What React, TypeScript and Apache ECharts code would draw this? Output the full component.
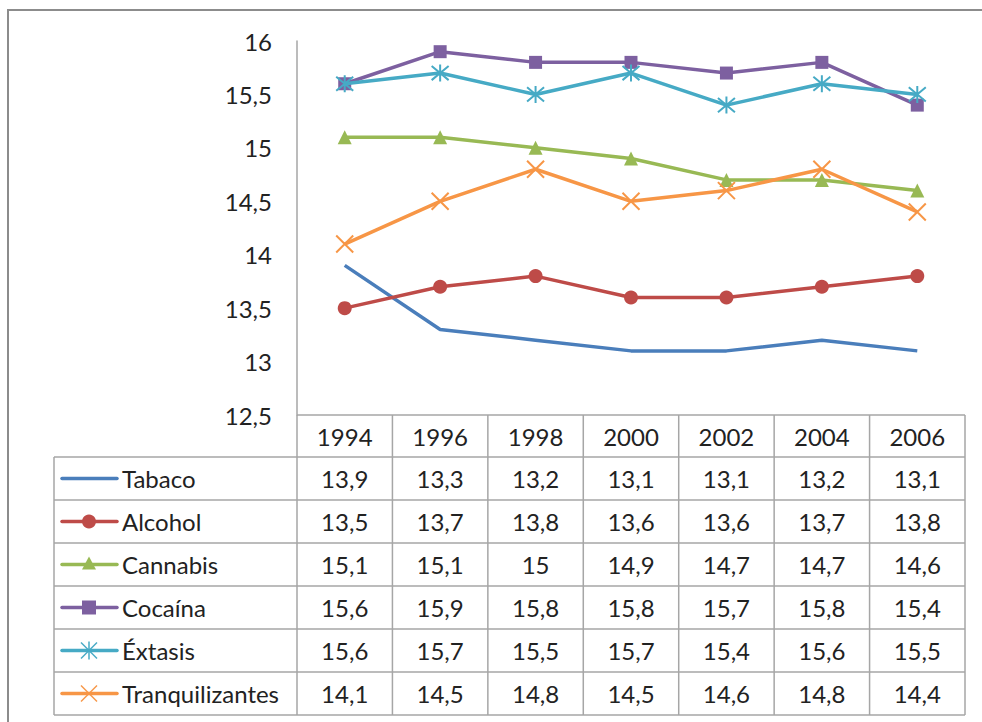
import React, { useEffect, useRef } from "react";
import * as echarts from "echarts";

const years = ["1994", "1996", "1998", "2000", "2002", "2004", "2006"];
const seriesNames = ["Tabaco", "Alcohol", "Cannabis", "Cocaína", "Éxtasis", "Tranquilizantes"];
const tabaco = [13.9, 13.3, 13.2, 13.1, 13.1, 13.2, 13.1];
const alcohol = [13.5, 13.7, 13.8, 13.6, 13.6, 13.7, 13.8];
const cannabis = [15.1, 15.1, 15, 14.9, 14.7, 14.7, 14.6];
const cocaina = [15.6, 15.9, 15.8, 15.8, 15.7, 15.8, 15.4];
const extasis = [15.6, 15.7, 15.5, 15.7, 15.4, 15.6, 15.5];
const tranquilizantes = [14.1, 14.5, 14.8, 14.5, 14.6, 14.8, 14.4];
const allData = [tabaco, alcohol, cannabis, cocaina, extasis, tranquilizantes];
const colors = ["#4A7EBB", "#BE4B48", "#98B954", "#7D60A0", "#46AAC5", "#F79646"];
const yMin = 12.5;
const yMax = 16;
const yStep = 0.5;

const FONT = "Lato, 'Noto Sans', sans-serif";
const FS = 24;
const TXT = "#222222";
const fmt = (v: number) => String(v).replace(".", ",");

const X_PATH = "path://M0,0L10,10M10,0L0,10";
const STAR_PATH = "path://M0,0L10,10M10,0L0,10M5,-1L5,11";

const symbols = ["none", "circle", "triangle", "rect", STAR_PATH, X_PATH];
const symbolSizes = [0, 14, 14, 13, 17, 17];

// layout
const G_LEFT = 297;
const G_RIGHT = 965;
const G_TOP = 41;
const G_BOTTOM = 415;
const TAB_LEFT = 54;
const ROW0 = 457;
const ROW_H = 43;

export default function App() {
  const ref = useRef<HTMLDivElement>(null);
  useEffect(() => {
    if (!ref.current) return;
    const chart = echarts.init(ref.current, undefined, { renderer: "svg" });
    const colW = (G_RIGHT - G_LEFT) / years.length;
    const graphics: any[] = [];
    const gray = "#A6A6A6";
    graphics.push({
      type: "rect",
      shape: { x: 8, y: 10, width: 1000, height: 800 },
      style: { fill: "none", stroke: "#8C8C8C", lineWidth: 2 },
      silent: true,
    });
    const nRows = seriesNames.length;
    const tabBottom = ROW0 + nRows * ROW_H;
    graphics.push({
      type: "line",
      shape: { x1: G_LEFT, y1: G_BOTTOM, x2: G_RIGHT, y2: G_BOTTOM },
      style: { stroke: gray, lineWidth: 1.5 },
    });
    for (let r = 0; r <= nRows; r++) {
      const y = ROW0 + r * ROW_H;
      graphics.push({
        type: "line",
        shape: { x1: TAB_LEFT, y1: y, x2: G_RIGHT, y2: y },
        style: { stroke: gray, lineWidth: 1.5 },
      });
    }
    graphics.push({
      type: "line",
      shape: { x1: TAB_LEFT, y1: ROW0, x2: TAB_LEFT, y2: tabBottom },
      style: { stroke: gray, lineWidth: 1.5 },
    });
    for (let c = 0; c <= years.length; c++) {
      const x = G_LEFT + c * colW;
      graphics.push({
        type: "line",
        shape: { x1: x, y1: G_BOTTOM, x2: x, y2: tabBottom },
        style: { stroke: gray, lineWidth: 1.5 },
      });
    }
    years.forEach((yr, c) => {
      graphics.push({
        type: "text",
        x: G_LEFT + (c + 0.5) * colW,
        y: (G_BOTTOM + ROW0) / 2,
        style: { text: yr, fill: TXT, font: `${FS}px ${FONT}`, align: "center", verticalAlign: "middle" },
      });
    });
    seriesNames.forEach((name, r) => {
      const cy = ROW0 + (r + 0.5) * ROW_H;
      const col = colors[r];
      graphics.push({
        type: "line",
        shape: { x1: 62, y1: cy, x2: 117, y2: cy },
        style: { stroke: col, lineWidth: 3.5, lineCap: "round" },
      });
      const mx = 89;
      if (r === 1) {
        graphics.push({ type: "circle", shape: { cx: mx, cy, r: 7 }, style: { fill: col } });
      } else if (r === 2) {
        graphics.push({
          type: "polygon",
          shape: { points: [[mx, cy - 8], [mx + 7, cy + 5], [mx - 7, cy + 5]] },
          style: { fill: col },
        });
      } else if (r === 3) {
        graphics.push({ type: "rect", shape: { x: mx - 7, y: cy - 7, width: 14, height: 14 }, style: { fill: col } });
      } else if (r === 4) {
        [[[mx - 8, cy - 8], [mx + 8, cy + 8]], [[mx + 8, cy - 8], [mx - 8, cy + 8]], [[mx, cy - 9], [mx, cy + 9]]].forEach((p) =>
          graphics.push({ type: "polyline", shape: { points: p }, style: { stroke: col, lineWidth: 1.5, fill: "none" } })
        );
      } else if (r === 5) {
        [[[mx - 8, cy - 8], [mx + 8, cy + 8]], [[mx + 8, cy - 8], [mx - 8, cy + 8]]].forEach((p) =>
          graphics.push({ type: "polyline", shape: { points: p }, style: { stroke: col, lineWidth: 1.5, fill: "none" } })
        );
      }
      graphics.push({
        type: "text",
        x: 122,
        y: cy,
        style: { text: name, fill: TXT, font: `${FS}px ${FONT}`, align: "left", verticalAlign: "middle" },
      });
      allData[r].forEach((v, c) => {
        graphics.push({
          type: "text",
          x: G_LEFT + (c + 0.5) * colW,
          y: cy,
          style: { text: fmt(v), fill: TXT, font: `${FS}px ${FONT}`, align: "center", verticalAlign: "middle" },
        });
      });
    });

    chart.setOption({
      animation: false,
      backgroundColor: "#ffffff",
      grid: { left: G_LEFT, right: 982 - G_RIGHT, top: G_TOP, bottom: 722 - G_BOTTOM, containLabel: false },
      xAxis: {
        type: "category",
        data: years,
        boundaryGap: true,
        axisLine: { show: false },
        axisTick: { show: false },
        axisLabel: { show: false },
        splitLine: { show: false },
      },
      yAxis: {
        type: "value",
        min: yMin,
        max: yMax,
        interval: yStep,
        axisLine: { show: true, lineStyle: { color: "#A6A6A6", width: 1.5 } },
        axisTick: { show: false },
        splitLine: { show: false },
        axisLabel: {
          margin: 25,
          color: TXT,
          fontSize: FS,
          fontFamily: FONT,
          formatter: (v: number) => fmt(v),
        },
      },
      series: seriesNames.map((name, i) => ({
        name,
        type: "line",
        data: allData[i],
        symbol: symbols[i],
        symbolSize: symbolSizes[i],
        showSymbol: i !== 0,
        lineStyle: { color: colors[i], width: 3.5 },
        itemStyle:
          i >= 4
            ? { color: "rgba(0,0,0,0)", borderColor: colors[i], borderWidth: 2 }
            : { color: colors[i], borderWidth: 0 },
        z: 2 + i,
      })),
      graphic: graphics,
    });
    return () => chart.dispose();
  }, []);
  return (
    <div
      ref={ref}
      style={{ position: "absolute", left: 0, top: 0, width: 982, height: 722, background: "#fff" }}
    />
  );
}
